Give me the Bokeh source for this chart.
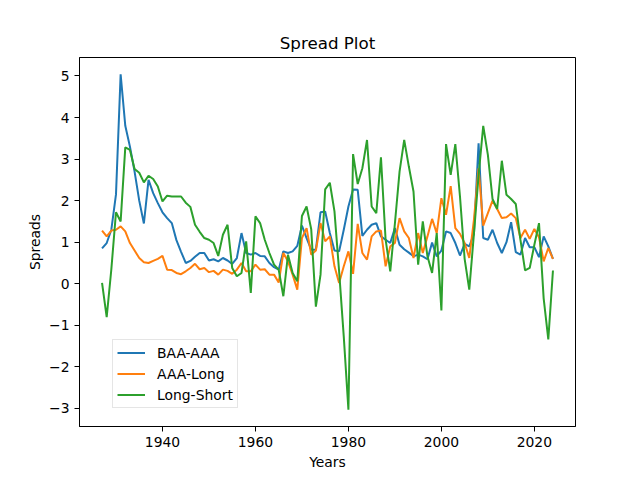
from bokeh.plotting import figure
from bokeh.models import Range1d, FixedTicker, Legend, LegendItem
from bokeh.embed import file_html
from bokeh.resources import INLINE

years = list(range(1927, 2025))

baa_aaa = [0.85, 0.98, 1.3, 2.15, 5.04, 3.8, 3.3, 2.7, 2.0, 1.45,
           2.5, 2.18, 1.94, 1.72, 1.58, 1.46, 1.05, 0.77, 0.5, 0.55,
           0.65, 0.74, 0.74, 0.56, 0.59, 0.54, 0.62, 0.56, 0.48, 0.62,
           1.22, 0.74, 0.7, 0.74, 0.67, 0.66, 0.5, 0.4, 0.34, 0.78,
           0.74, 0.78, 0.91, 1.4, 1.1, 0.82, 0.82, 1.72, 1.74, 1.22,
           0.8, 0.78, 1.3, 1.86, 2.27, 2.26, 1.15, 1.3, 1.42, 1.46,
           1.14, 1.06, 0.98, 1.34, 0.94, 0.83, 0.75, 0.66, 0.7, 0.66,
           0.59, 0.99, 0.66, 0.8, 1.26, 1.22, 0.98, 0.68, 0.96, 0.9,
           1.2, 3.38, 1.1, 1.06, 1.3, 0.98, 0.74, 1.0, 1.48, 0.76,
           0.7, 1.1, 0.88, 0.88, 0.64, 1.14, 0.9, 0.6]

aaa_long = [1.28, 1.14, 1.28, 1.3, 1.38, 1.26, 0.98, 0.8, 0.62, 0.52,
            0.5, 0.55, 0.6, 0.67, 0.34, 0.33, 0.26, 0.23, 0.3, 0.38,
            0.48, 0.35, 0.38, 0.28, 0.31, 0.22, 0.34, 0.31, 0.24, 0.34,
            0.5, 0.3, 0.3, 0.46, 0.34, 0.35, 0.22, 0.22, 0.03, 0.74,
            0.54, 0.22, -0.14, 1.1, 1.34, 0.7, 0.8, 1.46, 1.02, 1.14,
            0.42, 0.02, 0.42, 0.78, 0.24, 1.44, 0.74, 0.58, 1.14, 1.26,
            1.28, 0.42, 0.9, 0.98, 1.58, 1.26, 1.1, 0.62, 1.22, 0.74,
            1.14, 1.56, 1.22, 2.06, 1.66, 2.35, 1.34, 1.2, 0.98, 0.62,
            1.54, 2.78, 1.4, 1.7, 2.0, 1.8, 1.58, 1.6, 1.69, 1.58,
            1.1, 1.3, 1.08, 1.32, 1.12, 0.54, 0.86, 0.6]

long_short = [0.02, -0.8, 0.35, 1.72, 1.5, 3.28, 3.22, 2.76, 2.67, 2.44,
              2.6, 2.52, 2.34, 1.98, 2.12, 2.1, 2.1, 2.1, 1.95, 1.85,
              1.42, 1.25, 1.1, 1.06, 0.98, 0.67, 1.18, 1.42, 0.38, 0.18,
              0.26, 1.02, -0.22, 1.62, 1.46, 1.06, 0.74, 0.46, 0.34, -0.3,
              0.7, 0.26, 0.06, 1.63, 1.86, 1.31, -0.55, 0.22, 2.27, 2.43,
              1.74, 0.3, -1.27, -3.03, 3.12, 2.4, 2.78, 3.46, 1.86, 1.7,
              3.04, 1.06, 0.3, 1.45, 2.7, 3.46, 2.82, 2.22, 0.46, 1.5,
              0.66, 0.26, 1.22, -0.64, 3.36, 2.62, 3.36, 2.1, 0.6, -0.14,
              1.2, 2.6, 3.8, 3.1, 2.04, 1.8, 2.96, 2.14, 2.04, 1.92,
              1.06, 0.32, 0.38, 0.94, 1.46, -0.35, -1.34, 0.32]

series_names = ["BAA-AAA", "AAA-Long", "Long-Short"]
x_ticks = [1940, 1960, 1980, 2000, 2020]
y_ticks = [-3, -2, -1, 0, 1, 2, 3, 4, 5]
colors = ["#1f77b4", "#ff7f0e", "#2ca02c"]
FONT = "DejaVu Sans"

xmin, xmax = min(years), max(years)
xpad = (xmax - xmin) * 0.05
allv = baa_aaa + aaa_long + long_short
ymin, ymax = min(allv), max(allv)
ypad = (ymax - ymin) * 0.05

p = figure(frame_width=496, frame_height=369,
           min_border_left=79, min_border_top=57,
           min_border_right=48, min_border_bottom=45,
           output_backend="svg", toolbar_location=None,
           x_range=Range1d(xmin - xpad, xmax + xpad),
           y_range=Range1d(ymin - ypad, ymax + ypad),
           title="Spread Plot")

p.title.align = "center"
p.title.text_font = FONT
p.title.text_font_size = "16.7px"
p.title.text_font_style = "normal"
p.title.text_color = "black"
p.title.standoff = 9

p.xgrid.visible = False
p.ygrid.visible = False
p.outline_line_color = "black"
p.outline_line_width = 1
p.background_fill_color = "white"
p.border_fill_color = "white"

for ax in (p.xaxis[0], p.yaxis[0]):
    ax.major_label_text_font = FONT
    ax.major_label_text_font_size = "13.9px"
    ax.major_label_text_color = "black"
    ax.axis_label_text_font = FONT
    ax.axis_label_text_font_size = "13.9px"
    ax.axis_label_text_font_style = "normal"
    ax.axis_label_text_color = "black"
    ax.major_tick_in = 0
    ax.major_tick_out = 5
    ax.minor_tick_in = 0
    ax.minor_tick_out = 0
    ax.axis_line_color = "black"
    ax.major_tick_line_color = "black"

p.xaxis[0].ticker = FixedTicker(ticks=x_ticks)
p.yaxis[0].ticker = FixedTicker(ticks=y_ticks)
p.xaxis[0].axis_label = "Years"
p.yaxis[0].axis_label = "Spreads"
p.xaxis[0].major_label_standoff = 5
p.yaxis[0].major_label_standoff = 5
p.xaxis[0].axis_label_standoff = 4
p.yaxis[0].axis_label_standoff = 3

renderers = []
for data, c in zip([baa_aaa, aaa_long, long_short], colors):
    r = p.line(years, data, line_color=c, line_width=2)
    renderers.append(r)

legend = Legend(items=[LegendItem(label=n, renderers=[r]) for n, r in zip(series_names, renderers)],
                location=(33, 18))
legend.label_text_font = FONT
legend.label_text_font_size = "13.9px"
legend.label_text_color = "black"
legend.glyph_width = 28
legend.glyph_height = 17
legend.label_height = 17
legend.spacing = 4
legend.padding = 4
legend.margin = 0
legend.label_standoff = 12
legend.border_line_color = "#cccccc"
legend.border_line_width = 1
legend.background_fill_alpha = 0.8
p.add_layout(legend, "center")

open("out.html", "w").write(file_html(p, INLINE))
